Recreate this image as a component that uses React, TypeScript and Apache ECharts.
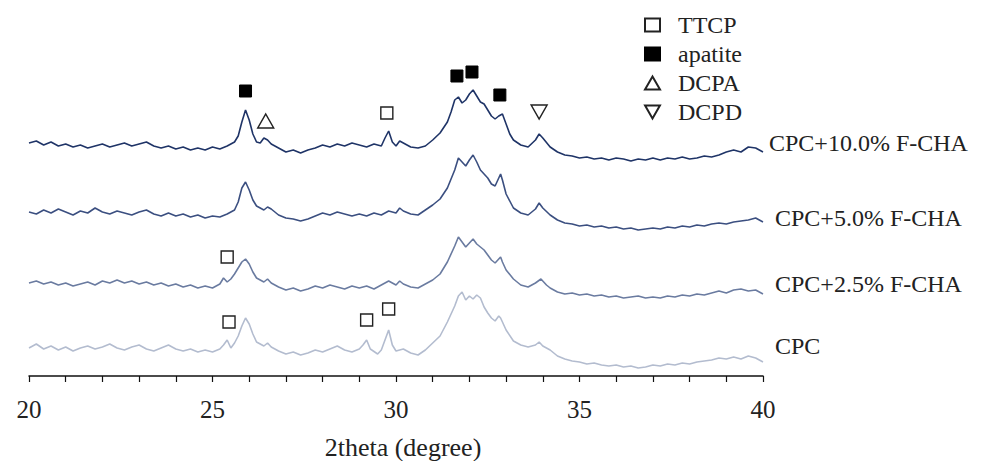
import React, { useEffect, useRef } from "react";
import * as echarts from "echarts";

// 2theta (degree) / intensity (a.u., stacked with offsets)
const cpc10: [number, number][] = [
  [20.0, 233], [20.2, 235], [20.4, 231], [20.6, 234], [20.8, 230], [21.0, 232], [21.2, 229], [21.4, 231], [21.6, 228], [21.8, 230],
  [22.0, 232], [22.2, 229], [22.4, 231], [22.6, 233], [22.8, 230], [23.0, 232], [23.2, 234], [23.4, 230], [23.6, 228], [23.8, 230],
  [24.0, 227], [24.2, 229], [24.4, 226], [24.6, 228], [24.8, 226], [25.0, 229], [25.2, 227], [25.4, 230], [25.6, 234], [25.7, 240],
  [25.8, 254], [25.9, 266], [26.0, 256], [26.1, 242], [26.2, 234], [26.3, 233], [26.4, 238], [26.5, 236], [26.6, 232], [26.8, 228],
  [27.0, 224], [27.2, 226], [27.4, 223], [27.6, 226], [27.8, 228], [28.0, 231], [28.2, 229], [28.4, 232], [28.6, 230], [28.8, 233],
  [29.0, 231], [29.2, 229], [29.4, 232], [29.6, 230], [29.7, 238], [29.8, 245], [29.9, 234], [30.0, 230], [30.1, 235], [30.2, 233],
  [30.4, 229], [30.6, 228], [30.8, 230], [31.0, 236], [31.2, 243], [31.4, 254], [31.5, 264], [31.6, 276], [31.7, 279], [31.8, 273],
  [31.9, 276], [32.0, 282], [32.1, 286], [32.2, 280], [32.3, 274], [32.4, 272], [32.5, 266], [32.6, 260], [32.7, 257], [32.8, 260],
  [32.9, 262], [33.0, 252], [33.1, 242], [33.2, 236], [33.4, 231], [33.6, 229], [33.8, 236], [33.9, 242], [34.0, 238], [34.2, 229],
  [34.4, 224], [34.6, 221], [34.8, 220], [35.0, 218], [35.2, 219], [35.4, 217], [35.6, 218], [35.8, 216], [36.0, 218], [36.2, 217],
  [36.4, 215], [36.6, 217], [36.8, 216], [37.0, 218], [37.2, 216], [37.4, 218], [37.6, 217], [37.8, 219], [38.0, 217], [38.2, 218],
  [38.4, 220], [38.6, 219], [38.8, 221], [39.0, 224], [39.2, 226], [39.4, 224], [39.6, 229], [39.8, 228], [40.0, 224],
];

const cpc5: [number, number][] = [
  [20.0, 164], [20.2, 162], [20.4, 166], [20.6, 163], [20.8, 167], [21.0, 164], [21.2, 161], [21.4, 165], [21.6, 163], [21.8, 168],
  [22.0, 164], [22.2, 162], [22.4, 165], [22.6, 163], [22.8, 161], [23.0, 164], [23.2, 166], [23.4, 162], [23.6, 160], [23.8, 163],
  [24.0, 160], [24.2, 162], [24.4, 159], [24.6, 161], [24.8, 158], [25.0, 160], [25.2, 159], [25.4, 162], [25.6, 166], [25.7, 174],
  [25.8, 188], [25.9, 194], [26.0, 186], [26.1, 176], [26.2, 170], [26.4, 166], [26.5, 169], [26.6, 167], [26.8, 161], [27.0, 158],
  [27.2, 157], [27.4, 155], [27.6, 157], [27.8, 160], [28.0, 163], [28.2, 161], [28.4, 164], [28.6, 162], [28.8, 160], [29.0, 162],
  [29.2, 160], [29.4, 163], [29.6, 161], [29.8, 165], [30.0, 163], [30.1, 168], [30.2, 165], [30.4, 162], [30.6, 161], [30.8, 166],
  [31.0, 171], [31.2, 177], [31.4, 188], [31.6, 206], [31.7, 218], [31.8, 214], [31.9, 210], [32.0, 216], [32.1, 221], [32.2, 214],
  [32.3, 206], [32.4, 202], [32.5, 198], [32.6, 192], [32.7, 190], [32.8, 198], [32.85, 202], [32.9, 196], [33.0, 182], [33.2, 168],
  [33.4, 163], [33.6, 161], [33.8, 167], [33.9, 173], [34.0, 168], [34.2, 161], [34.4, 156], [34.6, 153], [34.8, 152], [35.0, 150],
  [35.2, 151], [35.4, 149], [35.6, 150], [35.8, 148], [36.0, 149], [36.2, 147], [36.4, 148], [36.6, 146], [36.8, 147], [37.0, 148],
  [37.2, 147], [37.4, 149], [37.6, 148], [37.8, 150], [38.0, 149], [38.2, 151], [38.4, 150], [38.6, 152], [38.8, 153], [39.0, 152],
  [39.2, 154], [39.4, 155], [39.6, 156], [39.8, 158], [40.0, 154],
];

const cpc25: [number, number][] = [
  [20.0, 93], [20.2, 95], [20.4, 92], [20.6, 94], [20.8, 91], [21.0, 93], [21.2, 90], [21.4, 92], [21.6, 94], [21.8, 91],
  [22.0, 95], [22.2, 93], [22.4, 96], [22.6, 93], [22.8, 95], [23.0, 92], [23.2, 94], [23.4, 91], [23.6, 93], [23.8, 90],
  [24.0, 92], [24.2, 89], [24.4, 91], [24.6, 88], [24.8, 90], [25.0, 88], [25.2, 92], [25.3, 98], [25.4, 94], [25.5, 97],
  [25.6, 102], [25.7, 108], [25.8, 114], [25.9, 117], [26.0, 112], [26.1, 104], [26.2, 98], [26.4, 94], [26.5, 97], [26.6, 93],
  [26.8, 89], [27.0, 86], [27.2, 88], [27.4, 85], [27.6, 87], [27.8, 90], [28.0, 88], [28.2, 91], [28.4, 89], [28.6, 87],
  [28.8, 90], [29.0, 88], [29.2, 90], [29.4, 87], [29.6, 91], [29.8, 95], [30.0, 91], [30.1, 95], [30.2, 92], [30.4, 89],
  [30.6, 88], [30.8, 92], [31.0, 96], [31.2, 102], [31.4, 114], [31.6, 130], [31.7, 139], [31.8, 134], [31.9, 129], [32.0, 133],
  [32.1, 137], [32.2, 132], [32.3, 129], [32.4, 126], [32.5, 121], [32.6, 116], [32.7, 113], [32.8, 117], [32.85, 119], [32.9, 114],
  [33.0, 106], [33.2, 97], [33.4, 91], [33.6, 89], [33.8, 93], [33.95, 97], [34.1, 91], [34.2, 88], [34.4, 84], [34.6, 82],
  [34.8, 83], [35.0, 81], [35.2, 82], [35.4, 80], [35.6, 81], [35.8, 79], [36.0, 80], [36.2, 78], [36.4, 79], [36.6, 80],
  [36.8, 78], [37.0, 79], [37.2, 78], [37.4, 80], [37.6, 79], [37.8, 81], [38.0, 80], [38.2, 82], [38.4, 81], [38.6, 83],
  [38.8, 85], [39.0, 83], [39.2, 86], [39.4, 87], [39.6, 85], [39.8, 86], [40.0, 82],
];

const cpc: [number, number][] = [
  [20.0, 28], [20.2, 32], [20.4, 27], [20.6, 30], [20.8, 26], [21.0, 29], [21.2, 25], [21.4, 28], [21.6, 30], [21.8, 27],
  [22.0, 29], [22.2, 32], [22.4, 28], [22.6, 26], [22.8, 29], [23.0, 31], [23.2, 27], [23.4, 25], [23.6, 28], [23.8, 31],
  [24.0, 27], [24.2, 25], [24.4, 27], [24.6, 24], [24.8, 26], [25.0, 24], [25.2, 27], [25.3, 31], [25.4, 36], [25.5, 28],
  [25.6, 33], [25.7, 40], [25.8, 50], [25.9, 58], [26.0, 52], [26.1, 42], [26.2, 34], [26.4, 30], [26.5, 33], [26.6, 29],
  [26.8, 25], [27.0, 22], [27.2, 24], [27.4, 21], [27.6, 23], [27.8, 26], [28.0, 24], [28.2, 27], [28.4, 30], [28.6, 26],
  [28.8, 24], [29.0, 27], [29.1, 31], [29.2, 36], [29.3, 27], [29.5, 22], [29.6, 26], [29.7, 36], [29.8, 46], [29.9, 31],
  [30.0, 25], [30.2, 27], [30.4, 23], [30.6, 21], [30.8, 26], [31.0, 33], [31.2, 40], [31.4, 54], [31.6, 70], [31.7, 80],
  [31.8, 84], [31.9, 76], [32.0, 80], [32.1, 77], [32.2, 81], [32.3, 78], [32.4, 69], [32.5, 63], [32.6, 58], [32.7, 55],
  [32.8, 60], [32.85, 58], [32.9, 54], [33.0, 46], [33.2, 35], [33.4, 31], [33.6, 29], [33.8, 31], [33.9, 34], [34.0, 30],
  [34.2, 26], [34.4, 20], [34.6, 17], [34.8, 15], [35.0, 14], [35.2, 12], [35.4, 13], [35.6, 11], [35.8, 10], [36.0, 11],
  [36.2, 9], [36.4, 10], [36.6, 8], [36.8, 9], [37.0, 11], [37.2, 10], [37.4, 12], [37.6, 11], [37.8, 13], [38.0, 12],
  [38.2, 14], [38.4, 15], [38.6, 16], [38.8, 18], [39.0, 17], [39.2, 19], [39.4, 17], [39.6, 20], [39.8, 18], [40.0, 14],
];

// phase markers (2theta, marker height)
const ttcpMarks: [number, number][] = [[25.4, 119], [25.45, 54], [29.2, 56], [29.8, 67], [29.75, 263]];
const apatiteMarks: [number, number][] = [[25.9, 285], [31.66, 300], [32.07, 304], [32.83, 281]];
const dcpaMarks: [number, number][] = [[26.45, 255]];
const dcpdMarks: [number, number][] = [[33.9, 264]];

const seriesNames = ["CPC+10.0% F-CHA", "CPC+5.0% F-CHA", "CPC+2.5% F-CHA", "CPC"];
const seriesColors = ["#1f3467", "#3b4f80", "#6a7ba0", "#b3bccf"];
const labelY = [143, 218, 284, 346];

const FONT = "'Liberation Serif', 'Times New Roman', serif";

export default function App() {
  const ref = useRef<HTMLDivElement>(null);
  useEffect(() => {
    document.body.style.margin = "0";
    if (!ref.current) return;
    const chart = echarts.init(ref.current, undefined, { renderer: "svg" });
    const lines = [cpc10, cpc5, cpc25, cpc].map((d, i) => ({
      name: seriesNames[i],
      type: "line",
      data: d,
      showSymbol: false,
      symbol: "none",
      lineStyle: { color: seriesColors[i], width: 1.6 },
      z: 2,
    }));
    const markStyle = (fill: string) => ({ color: fill, borderColor: "#222", borderWidth: 1.4, opacity: 1 });
    chart.setOption({
      animation: false,
      grid: { left: 29, right: 220, top: 0, bottom: 85, containLabel: false, outerBoundsMode: "none" },
      xAxis: {
        type: "value",
        min: 20,
        max: 40,
        interval: 1,
        axisLine: { lineStyle: { color: "#111", width: 1.5 } },
        axisTick: { show: true, length: 6, lineStyle: { color: "#111", width: 1.2 } },
        splitLine: { show: false },
        axisLabel: {
          margin: 21,
          fontFamily: FONT,
          fontSize: 25,
          color: "#222",
          formatter: (v: number) => (v % 5 === 0 ? String(v) : ""),
        },
        name: "2theta (degree)",
        nameLocation: "middle",
        nameGap: 58,
        nameTextStyle: { fontFamily: FONT, fontSize: 26, color: "#222", padding: [0, 0, 0, 14] },
      },
      yAxis: { type: "value", min: 0, max: 376, show: false },
      legend: {
        orient: "vertical",
        left: 639,
        top: 8,
        itemWidth: 15,
        itemHeight: 13,
        itemGap: 5,
        data: ["TTCP", "apatite", "DCPA", "DCPD"],
        textStyle: { fontFamily: FONT, fontSize: 24, color: "#222", lineHeight: 23, padding: [0, 0, 0, 13] },
      },
      graphic: seriesNames.map((n, i) => ({
        type: "text",
        x: i === 0 ? 769 : 775,
        y: labelY[i],
        style: { text: n, fontFamily: FONT, fontSize: 24, fill: "#222", verticalAlign: "middle" },
      })),
      series: [
        ...lines,
        { name: "TTCP", type: "scatter", data: ttcpMarks, symbol: "rect", symbolSize: 12, itemStyle: markStyle("#fff"), z: 5 },
        { name: "apatite", type: "scatter", data: apatiteMarks, symbol: "rect", symbolSize: 12, itemStyle: { color: "#000", borderColor: "#000", borderWidth: 1, opacity: 1 }, z: 5 },
        { name: "DCPA", type: "scatter", data: dcpaMarks, symbol: "triangle", symbolSize: [16, 14], itemStyle: markStyle("#fff"), z: 5 },
        { name: "DCPD", type: "scatter", data: dcpdMarks, symbol: "path://M0,0L16,0L8,14Z", symbolSize: [16, 14], itemStyle: markStyle("#fff"), z: 5 },
      ],
    });
    return () => chart.dispose();
  }, []);
  return <div ref={ref} style={{ width: 983, height: 461 }} />;
}
